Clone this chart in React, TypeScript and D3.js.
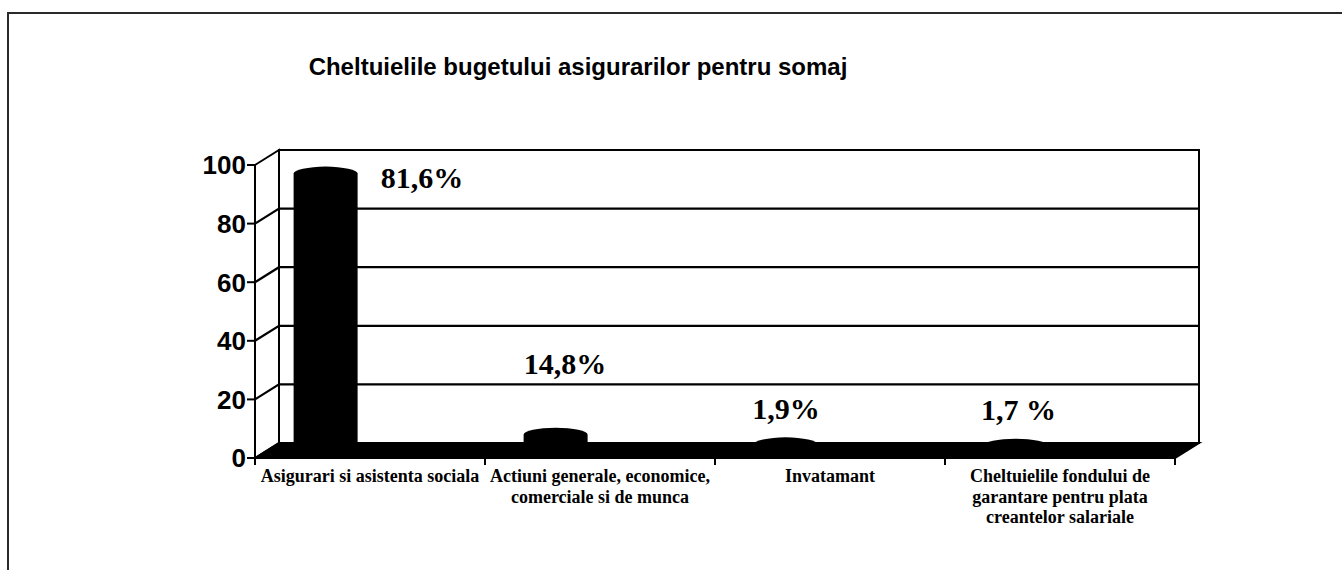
import React from "react";
import * as d3 from "d3";

// chart values
const categories = [
  "Asigurari si asistenta sociala",
  "Actiuni generale, economice, comerciale si de munca",
  "Invatamant",
  "Cheltuielile fondului de garantare pentru plata creantelor salariale",
];
const categoryLines = [
  ["Asigurari si asistenta sociala"],
  ["Actiuni generale, economice,", "comerciale si de munca"],
  ["Invatamant"],
  ["Cheltuielile fondului de", "garantare pentru plata", "creantelor salariale"],
];
const barValues = [94.5, 5.4, 2.1, 1.6];
const shareLabels = ["81,6%", "14,8%", "1,9%", "1,7 %"];
const yTicks = [0, 20, 40, 60, 80, 100];
const title = "Cheltuielile bugetului asigurarilor pentru somaj";

const W = 1342;
const H = 570;

export default function App() {
  // front plane of the 3d box
  const x = d3.scaleBand<string>().domain(categories).range([255, 1175]).padding(0);
  const y = d3.scaleLinear().domain([0, 100]).range([458, 165]);
  const bw = x.bandwidth();
  const DX = 24; // depth offset
  const DY = -15;

  const x0 = x.range()[0];
  const x1 = x.range()[1];
  const yBot = y(0);
  const yTop = y(100);

  // manual text boxes, as in the original
  const labelAt = [
    { u: 0.726, v: 92 },
    { u: 0.348, v: 28.7 },
    { u: 0.309, v: 13.3 },
    { u: 0.32, v: 13 },
  ];

  const rx = 32;
  const ry = 7;

  return (
    <div style={{ position: "absolute", left: 0, top: 0 }}>
      <svg width={W} height={H} style={{ display: "block", background: "#fff" }}>
        {/* page frame */}
        <path d={`M8,${H} V13 H${W}`} fill="none" stroke="#2a2a2a" strokeWidth={2} />

        <text
          x={578}
          y={75}
          textAnchor="middle"
          fontFamily="'Liberation Sans', Arial, sans-serif"
          fontWeight="bold"
          fontSize={24}
          fill="#000"
        >
          {title}
        </text>

        {/* back wall */}
        <rect
          x={x0 + DX}
          y={yTop + DY}
          width={x1 - x0}
          height={yBot - yTop}
          fill="#fff"
          stroke="#000"
          strokeWidth={2}
        />
        {/* side wall */}
        <path
          d={`M${x0},${yTop} L${x0 + DX},${yTop + DY} L${x0 + DX},${yBot + DY} L${x0},${yBot} Z`}
          fill="#fff"
          stroke="#000"
          strokeWidth={2}
        />
        {/* gridlines */}
        {yTicks
          .filter((t) => t > 0 && t < 100)
          .map((t) => (
            <path
              key={t}
              d={`M${x0},${y(t)} L${x0 + DX},${y(t) + DY} H${x1 + DX}`}
              fill="none"
              stroke="#000"
              strokeWidth={2.2}
            />
          ))}
        {/* floor */}
        <path
          d={`M${x0},${yBot} L${x0 + DX},${yBot + DY} H${x1 + DX} L${x1},${yBot} Z`}
          fill="#000"
          stroke="#000"
          strokeWidth={2}
        />

        {/* cylinders */}
        {categories.map((c, i) => {
          const cx = (x(c) as number) + bw * 0.307;
          const base = yBot + DY / 2;
          const top = y(barValues[i]) + DY / 2;
          return (
            <path
              key={c}
              d={`M${cx - rx},${base} V${top} A${rx},${ry} 0 0 1 ${cx + rx},${top} V${base} Z`}
              fill="#000"
            />
          );
        })}

        {/* value labels */}
        {categories.map((c, i) => (
          <text
            key={c}
            x={(x(c) as number) + bw * labelAt[i].u}
            y={y(labelAt[i].v)}
            textAnchor="middle"
            fontFamily="'Liberation Serif', 'Times New Roman', serif"
            fontWeight="bold"
            fontSize={30}
            fill="#000"
          >
            {shareLabels[i]}
          </text>
        ))}

        {/* y axis */}
        <line x1={x0} x2={x0} y1={yTop} y2={yBot} stroke="#000" strokeWidth={2} />
        {yTicks.map((t) => (
          <g key={t}>
            <line x1={x0 - 8} x2={x0} y1={y(t)} y2={y(t)} stroke="#000" strokeWidth={2} />
            <text
              x={x0 - 9}
              y={y(t)}
              dy="0.36em"
              textAnchor="end"
              fontFamily="'Liberation Sans', Arial, sans-serif"
              fontWeight="bold"
              fontSize={26}
              fill="#000"
            >
              {t}
            </text>
          </g>
        ))}

        {/* x axis ticks */}
        <line x1={x0} x2={x1} y1={yBot} y2={yBot} stroke="#000" strokeWidth={2} />
        {[...categories.map((c) => x(c) as number), x1].map((px, i) => (
          <line key={i} x1={px} x2={px} y1={yBot} y2={yBot + 7} stroke="#000" strokeWidth={2} />
        ))}

        {/* category labels */}
        {categories.map((c, i) => (
          <text
            key={c}
            textAnchor="middle"
            fontFamily="'Liberation Serif', 'Times New Roman', serif"
            fontWeight="bold"
            fontSize={18}
            fill="#000"
          >
            {categoryLines[i].map((line, j) => (
              <tspan key={j} x={(x(c) as number) + bw / 2} y={482 + j * 20.5}>
                {line}
              </tspan>
            ))}
          </text>
        ))}
      </svg>
    </div>
  );
}
